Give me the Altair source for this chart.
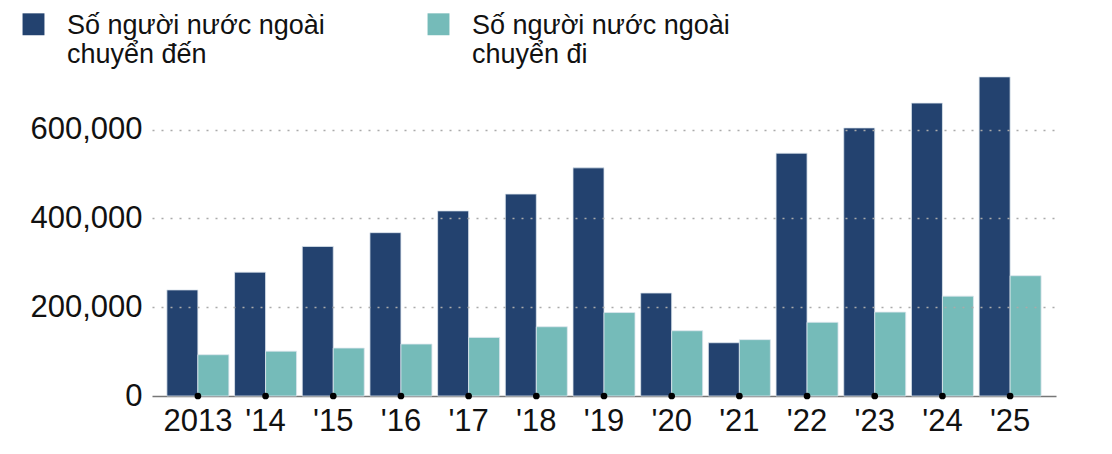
import altair as alt
import pandas as pd

years = ["2013", "'14", "'15", "'16", "'17", "'18", "'19", "'20", "'21", "'22", "'23", "'24", "'25"]
arrivals = [239000, 279000, 337000, 368000, 417000, 455000, 514000, 232000, 120000, 547000, 604000, 660000, 719000]
departures = [93000, 101000, 108000, 117000, 132000, 156000, 188000, 147000, 127000, 166000, 189000, 225000, 271000]
series_names = ["Số người nước ngoài|chuyển đến", "Số người nước ngoài|chuyển đi"]
colors = ["#23426F", "#75BBB9"]

rows = []
for i, y in enumerate(years):
    rows.append({"year": y, "series": series_names[0], "value": arrivals[i]})
    rows.append({"year": y, "series": series_names[1], "value": departures[i]})
df = pd.DataFrame(rows)
ticks_df = pd.DataFrame({"year": years, "zero": [0] * len(years)})

FONT = "Liberation Sans"

xscale = alt.Scale(domain=years, paddingInner=0.084, paddingOuter=0.22)
yscale = alt.Scale(domain=[0, 730000], nice=False)

bars = alt.Chart(df).mark_bar(stroke="#dde6ee", strokeWidth=0.8).encode(
    x=alt.X("year:N", scale=xscale, sort=years,
            axis=alt.Axis(title=None, labelAngle=0, labelFontSize=31, labelFont=FONT,
                          labelColor="#111", ticks=False, domain=True, domainColor="#777",
                          domainWidth=1.5, labelPadding=10, grid=False)),
    xOffset=alt.XOffset("series:N", sort=series_names, scale=alt.Scale(paddingInner=0, paddingOuter=0)),
    y=alt.Y("value:Q", scale=yscale,
            axis=alt.Axis(title=None, values=[0, 200000, 400000, 600000],
                          labelExpr="format(datum.value, ',')",
                          labelFontSize=31, labelFont=FONT, labelColor="#111",
                          ticks=False, domain=False, labelPadding=10,
                          grid=True, gridColor="#aaaaaa", gridDash=[2, 7], gridWidth=1.5,
                          gridOpacity={"condition": {"test": "datum.value === 0", "value": 0}, "value": 1},
                          zindex=1)),
    color=alt.Color("series:N", sort=series_names,
                    scale=alt.Scale(domain=series_names, range=colors),
                    legend=alt.Legend(title=None, orient="none", legendX=-132, legendY=-52,
                                      direction="horizontal",
                                      symbolType="M-1,-1.864H1V0.136H-1Z",
                                      symbolSize=480, symbolStrokeWidth=0,
                                      labelFontSize=27, labelFont=FONT, labelColor="#111",
                                      labelExpr="split(datum.label, '|')",
                                      labelLimit=400, columnPadding=100, labelOffset=20,
                                      labelBaseline="alphabetic", symbolOffset=0)),
)

dots = alt.Chart(ticks_df).mark_circle(fill="black", color="black", size=45, opacity=1, strokeWidth=0).encode(
    x=alt.X("year:N", scale=xscale, sort=years),
    y=alt.Y("zero:Q", scale=yscale),
)

chart = alt.layer(bars, dots).properties(
    width=904, height=324,
    autosize=alt.AutoSizeParams(type="none"),
    padding={"left": 144, "top": 64, "right": 40, "bottom": 40},
).configure_view(stroke=None).configure_legend(symbolStrokeColor=None)

chart.save("out.html", embed_options={"renderer": "svg", "actions": False})
